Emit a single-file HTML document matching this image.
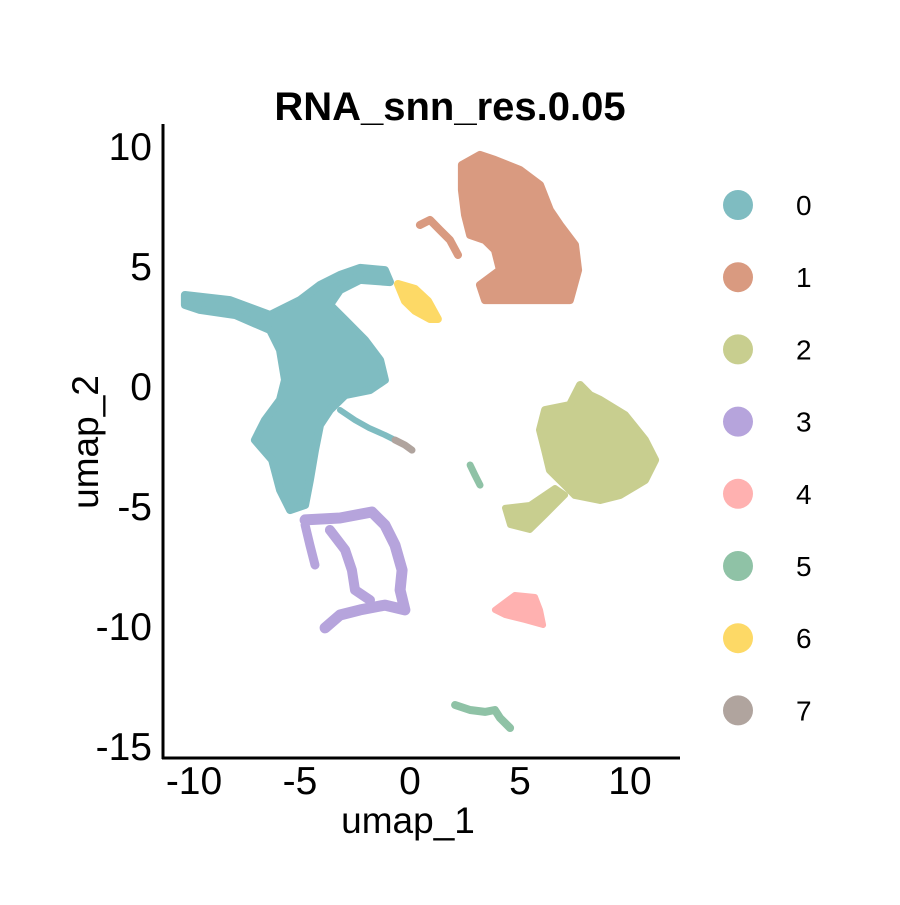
<!DOCTYPE html>
<html><head><meta charset="utf-8"><style>
body{margin:0;background:#fff}
svg text{font-family:"Liberation Sans",Arial,sans-serif}
</style></head><body>
<svg id="chart" width="900" height="900" viewBox="0 0 900 900" xmlns="http://www.w3.org/2000/svg">
<rect width="900" height="900" fill="#fff"/>
<text x="450" y="120" text-anchor="middle" font-size="40" font-weight="bold">RNA_snn_res.0.05</text>
<g id="marks"></g>
<line x1="163" y1="124" x2="163" y2="759" stroke="#000" stroke-width="3"/>
<line x1="162" y1="758" x2="680" y2="758" stroke="#000" stroke-width="3"/>
<g id="xticks"></g><g id="yticks"></g>
<text x="408" y="833" text-anchor="middle" font-size="37">umap_1</text>
<text transform="translate(98,442) rotate(-90)" text-anchor="middle" font-size="37">umap_2</text>
<g id="legend"></g>
</svg>
<script>
const clusterIds=["0","1","2","3","4","5","6","7"];
const clusterColors=["#7FBCC1","#D99A80","#C8CE8F","#B6A4DC","#FFB1B0","#8FC2A6","#FDD966","#B0A49E"];
const xTicks=[-10,-5,0,5,10];
const yTicks=[10,5,0,-5,-10,-15];
// blob outlines (data units)
const blob0=[[-10.23,3.79],[-8.18,3.58],[-6.36,2.96],[-5.0,3.58],[-4.09,4.21],[-3.18,4.63],[-2.27,4.92],[-1.14,4.83],[-0.91,4.33],[-2.27,4.42],[-3.18,4.0],[-3.64,3.38],[-2.95,2.75],[-2.05,1.92],[-1.36,1.08],[-1.14,0.25],[-1.82,-0.17],[-2.95,-0.38],[-3.64,-1.0],[-4.09,-1.63],[-4.32,-2.67],[-4.55,-3.92],[-4.77,-4.96],[-5.45,-5.17],[-5.91,-4.33],[-6.27,-3.08],[-7.05,-2.25],[-6.59,-1.42],[-5.91,-0.58],[-5.68,0.25],[-5.91,1.5],[-6.36,2.33],[-7.95,2.96],[-9.55,3.17],[-10.23,3.38]];
const tail0=[[-3.18,-1.0],[-2.5,-1.42],[-1.86,-1.75],[-1.14,-2.04],[-0.68,-2.25]];
const tail7=[[-0.68,-2.25],[-0.23,-2.46],[0.09,-2.67]];
const blob6=[[-0.55,4.25],[0.23,4.04],[0.82,3.54],[1.27,2.79],[0.91,2.79],[0.23,3.13],[-0.23,3.54]];
const blob1=[[2.36,9.21],[3.18,9.63],[3.86,9.42],[5.0,9.0],[5.91,8.38],[6.36,7.33],[6.82,6.71],[7.5,5.88],[7.64,4.83],[7.27,3.58],[5.91,3.58],[4.55,3.58],[3.41,3.58],[3.18,4.21],[4.09,4.83],[3.86,5.67],[3.41,6.08],[2.73,6.29],[2.5,7.13],[2.36,8.17]];
const arm1=[[0.45,6.71],[0.91,6.92],[1.36,6.5],[1.82,6.08],[2.18,5.46]];
const blob2=[[6.14,-1.0],[7.27,-0.79],[7.73,0.04],[8.18,-0.38],[8.64,-0.58],[9.77,-1.21],[10.68,-2.25],[11.14,-3.08],[10.68,-3.92],[9.55,-4.54],[8.64,-4.75],[7.5,-4.54],[7.05,-4.13],[6.36,-3.5],[6.14,-2.67],[5.91,-1.83]];
const arm2=[[4.32,-5.08],[5.45,-4.96],[6.59,-4.25],[7.05,-4.54],[6.14,-5.38],[5.45,-6.0],[4.55,-5.79]];
const line5a=[[2.73,-3.29],[2.95,-3.71],[3.18,-4.13]];
const line5b=[[2.05,-13.29],[2.73,-13.5],[3.41,-13.58],[3.86,-13.5],[4.09,-13.83],[4.55,-14.25]];
const blob4=[[3.86,-9.33],[4.77,-8.71],[5.68,-8.79],[5.91,-9.33],[6.05,-9.96],[5.23,-9.75],[4.32,-9.54]];
const loop3=[[-4.77,-5.58],[-3.18,-5.5],[-1.73,-5.25],[-1.14,-5.79],[-0.68,-6.63],[-0.36,-7.67],[-0.45,-8.5],[-0.23,-9.33],[-1.14,-9.13],[-2.27,-9.33],[-3.18,-9.54],[-3.86,-10.08]];
const branch3=[[-3.64,-6.0],[-2.95,-6.83],[-2.64,-7.67],[-2.5,-8.5],[-1.82,-8.92]];
const left3=[[-4.77,-5.79],[-4.55,-6.63],[-4.32,-7.46]];

const X=v=>410+22*v, Y=v=>386-24*v;
const NS="http://www.w3.org/2000/svg";
const marks=document.getElementById('marks');
const pts=a=>a.map(p=>X(p[0]).toFixed(1)+','+Y(p[1]).toFixed(1)).join(' ');
function shape(tag,arr,ci,w,name){
  const e=document.createElementNS(NS,tag);
  e.setAttribute('points',pts(arr));
  e.setAttribute('fill',tag==='polygon'?clusterColors[ci]:'none');
  e.setAttribute('stroke',clusterColors[ci]);
  e.setAttribute('stroke-width',w);
  e.setAttribute('stroke-linejoin','round');
  e.setAttribute('stroke-linecap','round');
  
  
  marks.appendChild(e);
}
shape('polygon',blob0,0,8,'cluster-0-body');
shape('polyline',tail0,0,6,'cluster-0-tail');
shape('polyline',tail7,7,7,'cluster-7');
shape('polygon',blob6,6,8,'cluster-6');
shape('polygon',blob1,1,8,'cluster-1-body');
shape('polyline',arm1,1,8,'cluster-1-arm');
shape('polygon',blob2,2,8,'cluster-2-body');
shape('polygon',arm2,2,6,'cluster-2-arm');
shape('polyline',line5a,5,7,'cluster-5-small');
shape('polyline',line5b,5,8,'cluster-5-bottom');
shape('polygon',blob4,4,6,'cluster-4');
shape('polyline',loop3,3,11,'cluster-3-loop');
shape('polyline',branch3,3,10,'cluster-3-branch');
shape('polyline',left3,3,9,'cluster-3-left');

const xg=document.getElementById('xticks');
xTicks.forEach(t=>{const e=document.createElementNS(NS,'text');
e.setAttribute('x',X(t)+(t===-10?4:0));e.setAttribute('y',794);e.setAttribute('text-anchor','middle');e.setAttribute('font-size','39');
e.textContent=t;


xg.appendChild(e);});
const yg=document.getElementById('yticks');
yTicks.forEach(t=>{const e=document.createElementNS(NS,'text');
e.setAttribute('x',152);e.setAttribute('y',Y(t)+14);e.setAttribute('text-anchor','end');e.setAttribute('font-size','39');
e.textContent=t;


yg.appendChild(e);});
const lg=document.getElementById('legend');
clusterIds.forEach((id,i)=>{const y=205+72.2*i;
const c=document.createElementNS(NS,'circle');c.setAttribute('cx',738);c.setAttribute('cy',y);c.setAttribute('r',15);c.setAttribute('fill',clusterColors[i]);


lg.appendChild(c);
const t=document.createElementNS(NS,'text');t.setAttribute('x',796);t.setAttribute('y',y+10);t.setAttribute('font-size','28');t.textContent=id;


lg.appendChild(t);});
</script>
</body></html>
